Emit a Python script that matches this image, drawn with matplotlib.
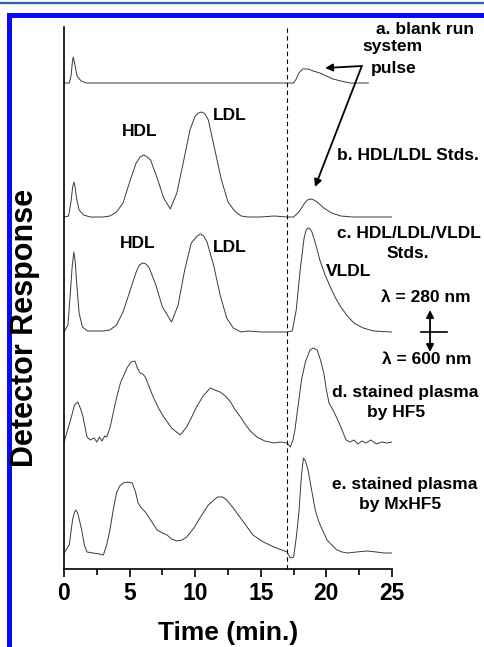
import matplotlib
matplotlib.use("Agg")
import matplotlib.pyplot as plt
from matplotlib.patches import Rectangle
from matplotlib.lines import Line2D

plt.rcParams['font.family'] = ['Liberation Sans', 'DejaVu Sans']
plt.rcParams['font.weight'] = 'bold'

# detector signal (arbitrary units, offset per trace)
a_time = [0, 0.4, 0.55, 0.63, 0.7, 0.77, 0.85, 1.0, 1.3, 1.7, 5, 10, 15, 17.5,
          17.7, 17.9, 18.2, 18.6, 19.0, 19.5, 20.0, 20.5, 21.1, 21.8, 23.2]
a_signal = [486, 486, 494, 506, 512, 508, 503, 493, 488, 486, 486, 486, 486, 486,
            490, 496, 500, 500, 498, 496, 493, 490, 488, 486, 486]

b_time = [0, 0.35, 0.55, 0.66, 0.76, 0.86, 0.95, 1.15, 1.5, 2, 3, 3.5, 4, 4.5,
          5, 5.5, 5.8, 6.1, 6.35, 6.6, 7.1, 7.6, 8.1, 8.6, 9.1, 9.6, 10.0,
          10.25, 10.5, 10.75, 11.0, 11.5, 12.0, 12.5, 13.0, 13.5, 14, 15, 16,
          17, 17.5, 17.9, 18.3, 18.55, 18.8, 19.05, 19.3, 19.8, 20.4, 21.1,
          22, 25]
b_signal = [352, 353, 369, 382, 387, 381, 371, 359, 354, 352, 352, 353, 357, 366,
            387, 406, 412, 414, 412, 409, 391, 371, 360, 376, 407, 439, 453,
            456, 457, 455, 449, 419, 389, 367, 358, 353, 352, 352, 353,
            352, 352, 357, 365, 369, 370, 369, 367, 361, 356, 353,
            352, 352]

c_time = [0, 0.3, 0.5, 0.62, 0.75, 0.85, 0.95, 1.15, 1.4, 1.8, 3, 3.5, 4, 4.5,
          5, 5.5, 5.75, 6.0, 6.25, 6.5, 7.0, 7.5, 8.2, 8.7, 9.2, 9.7, 10.15,
          10.4, 10.65, 10.9, 11.4, 11.9, 12.4, 12.9, 13.5, 14, 15, 16, 17.0,
          17.4, 17.7, 18.0, 18.3, 18.45, 18.6, 18.75, 18.9, 19.2, 19.5, 19.9,
          20.3, 20.7, 21.1, 21.6, 22.1, 22.8, 23.6, 25]
c_signal = [237, 244, 279, 302, 317, 308, 289, 256, 242, 238, 238, 239, 244, 257,
            277, 297, 304, 306, 305, 301, 284, 262, 247, 264, 299, 326, 333,
            335, 333, 327, 304, 274, 251, 241, 237, 238, 237, 237, 237,
            238, 259, 299, 331, 339, 341, 340, 337, 324, 309, 294,
            282, 271, 262, 253, 246, 241, 238, 237]

d_time = [0, 0.5, 0.8, 1.05, 1.3, 1.45, 1.75, 2.0, 2.3, 2.5, 2.7, 2.9, 3.1, 3.25,
          3.5, 3.75, 4.0, 4.3, 4.8, 5.1, 5.4, 5.6, 5.8, 6.0, 6.2, 6.5, 6.8, 7.2,
          7.6, 8.2, 8.85, 9.35, 9.7, 10.1, 10.6, 11.15, 11.5, 11.9, 12.3, 12.7,
          13.0, 13.4, 13.8, 14.2, 14.7, 15.3, 16.0, 16.5, 17.0, 17.25, 17.45,
          17.6, 17.85, 18.1, 18.4, 18.75, 19.0, 19.3, 19.55, 19.8, 20.0, 20.2,
          20.5, 20.8, 21.1, 21.5, 21.8, 22.1, 22.4, 22.7, 23.0, 23.4, 23.8,
          24.2, 24.6, 25]
d_signal = [127, 149, 164, 167, 159, 152, 132, 129, 131, 127, 132, 128, 133, 132,
            141, 156, 171, 186, 201, 207, 208, 201, 196, 195, 192, 182, 172, 161,
            152, 141, 134, 142, 151, 162, 173, 181, 179, 177, 173, 167,
            160, 153, 145, 138, 132, 128, 126, 127, 126, 122, 129,
            139, 164, 189, 207, 219, 221, 219, 209, 196, 179, 166,
            159, 151, 142, 129, 127, 129, 125, 128, 126, 129, 125,
            127, 126, 127]

e_time = [0, 0.4, 0.65, 0.8, 0.9, 1.0, 1.1, 1.35, 1.55, 1.75, 2.2, 2.7, 3.0,
          3.25, 3.5, 3.75, 4.0, 4.25, 4.5, 4.85, 5.2, 5.45, 5.65, 5.9, 6.2, 6.6,
          7.1, 7.5, 7.85, 8.2, 8.6, 9.0, 9.35, 9.9, 10.4, 11.0, 11.7, 12.1,
          12.4, 12.9, 13.4, 13.9, 14.4, 15.2, 16.0, 16.6, 17.0, 17.25, 17.5,
          17.7, 17.9, 18.1, 18.25, 18.4, 18.6, 18.9, 19.15, 19.4, 19.7, 20.05,
          20.4, 20.8, 21.2, 21.6, 22.3, 23.1, 23.8, 24.4, 25]
e_signal = [16, 24, 49, 57, 59, 57, 53, 39, 24, 17, 16, 15, 14,
            24, 39, 59, 76, 83, 86, 87, 86, 77, 66, 61, 57, 49,
            39, 36, 34, 30, 28, 29, 32, 41, 52, 64, 72, 72,
            69, 61, 52, 43, 34, 27, 22, 19, 17, 11, 12,
            31, 56, 94, 111, 108, 99, 77, 59, 48, 39, 29,
            24, 19, 17, 16, 17, 18, 17, 16, 16]

traces = [(a_time, a_signal), (b_time, b_signal), (c_time, c_signal),
          (d_time, d_signal), (e_time, e_signal)]
pulse_time = 17.0

W, H = 484, 647
fig = plt.figure(figsize=(W / 100, H / 100), dpi=100)
ax = fig.add_axes([64 / W, (H - 569) / H, 328 / W, 542 / H])

for t, s in traces:
    ax.plot(t, s, color='#3a3a3a', lw=0.7)

ax.axvline(pulse_time, color='black', lw=0.8, ls=(0, (4, 3)))

ax.set_xlim(0, 25)
ax.set_ylim(0, 542)
ax.set_yticks([])
ax.set_xticks([0, 5, 10, 15, 20, 25])
ax.set_xticks([2.5, 7.5, 12.5, 17.5, 22.5], minor=True)
ax.tick_params(axis='x', which='major', length=6, width=1.2, labelsize=16.5, pad=3)
ax.tick_params(axis='x', which='minor', length=4, width=1.2)
for lab in ax.get_xticklabels():
    lab.set_fontweight('bold')
for side in ['top', 'right']:
    ax.spines[side].set_visible(False)
for side in ['left', 'bottom']:
    ax.spines[side].set_linewidth(1.2)

ax.set_xlabel('Time (min.)', fontsize=19, fontweight='bold', labelpad=12)
fig.text(25 / W, 1 - 328 / H, 'Detector Response', rotation=90, fontsize=22,
         fontweight='bold', ha='center', va='center')

fs = 12.5
kw = dict(fontsize=fs, fontweight='bold', ha='center', va='center')
ax.text(27.5, 540, 'a. blank run', **kw)
ax.text(25.0, 522, 'system', **kw)
ax.text(25.15, 501, 'pulse', **kw)
ax.text(5.8, 437, 'HDL', **kw)
ax.text(12.65, 454, 'LDL', **kw)
ax.text(5.64, 326, 'HDL', **kw)
ax.text(12.65, 322, 'LDL', **kw)
ax.text(26.2, 414, 'b. HDL/LDL Stds.', **kw)
ax.text(26.3, 336, 'c. HDL/LDL/VLDL', **kw)
ax.text(26.2, 316, 'Stds.', **kw)
ax.text(21.7, 297, 'VLDL', **kw)
ax.text(27.6, 272, 'λ = 280 nm', **kw)
ax.text(27.67, 209, 'λ = 600 nm', **kw)
ax.text(26.0, 177, 'd. stained plasma', **kw)
ax.text(25.3, 157, 'by HF5', **kw)
ax.text(26.0, 84, 'e. stained plasma', **kw)
ax.text(25.6, 64, 'by MxHF5', **kw)

arrow = dict(arrowstyle='-|>', color='black', lw=1.3, mutation_scale=11,
             shrinkA=0, shrinkB=0)
ax.annotate('', xy=(19.9, 501), xytext=(22.7, 503), arrowprops=arrow,
            annotation_clip=False)
ax.annotate('', xy=(19.13, 382), xytext=(22.7, 503), arrowprops=arrow,
            annotation_clip=False)
# wavelength switch marker
ax.annotate('', xy=(27.9, 259), xytext=(27.9, 237), arrowprops=arrow,
            annotation_clip=False)
ax.annotate('', xy=(27.9, 217), xytext=(27.9, 237), arrowprops=arrow,
            annotation_clip=False)
ax.plot([27.21, 29.19], [237, 237], color='black', lw=1.2, clip_on=False)

# page frame
fig.add_artist(Line2D([0, 1], [1 - 3 / H, 1 - 3 / H], color='#2a64a8', lw=1.6))
fig.add_artist(Rectangle((7 / W, 0), 5 / W, (H - 13) / H, color='#0a0af5', lw=0))
fig.add_artist(Rectangle((7 / W, (H - 18) / H), (W - 7) / W, 5 / H,
                         color='#0a0af5', lw=0))

fig.savefig('out.png', dpi=100)
